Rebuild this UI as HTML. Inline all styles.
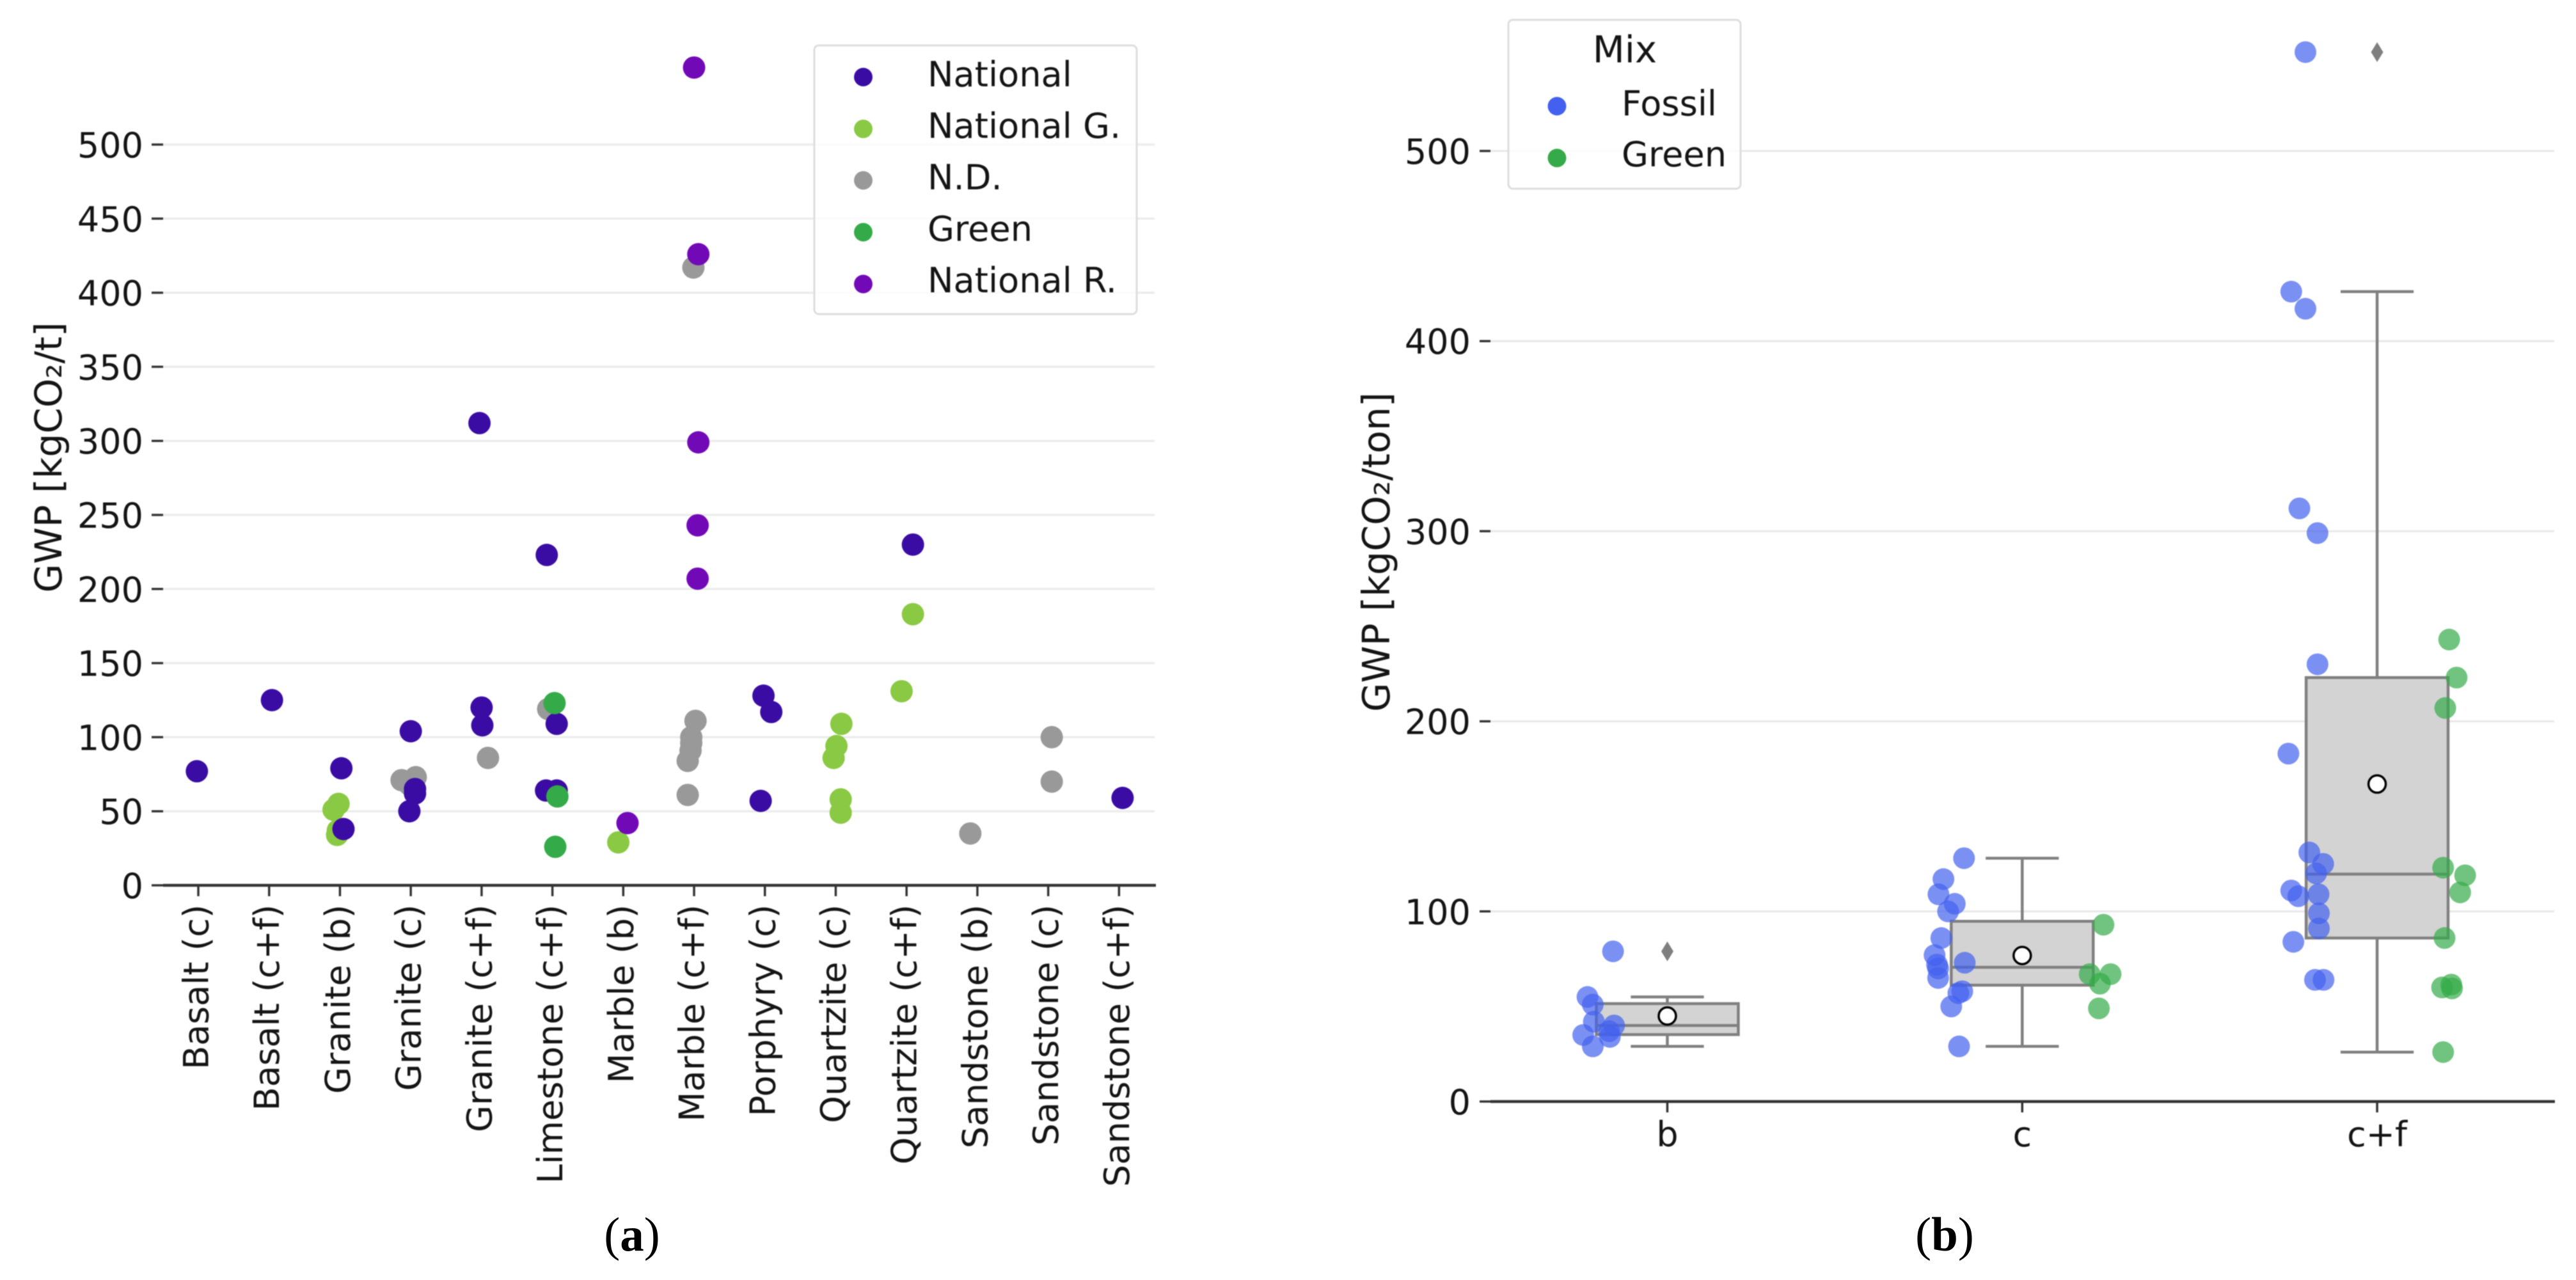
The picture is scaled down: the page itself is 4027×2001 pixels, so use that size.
<!DOCTYPE html>
<html lang="en">
<head>
<meta charset="utf-8">
<title>GWP by stone type and by mix</title>
<style>
html,body{margin:0;padding:0;background:#fff;}
svg{display:block;}
text{font-family:"DejaVu Sans","Liberation Sans",sans-serif;fill:#141414;}
.cap{font-family:"Liberation Serif","DejaVu Serif",serif;fill:#000;font-size:75px;}
.soft{filter:blur(0.8px);}
</style>
</head>
<body>
<svg id="figure" xmlns="http://www.w3.org/2000/svg" width="4027" height="2001" viewBox="0 0 4027 2001">
  <rect width="4027" height="2001" fill="#fff"/>

  <g id="panel-a" class="soft"></g>
  <text class="soft" transform="translate(96,715) rotate(-90)" text-anchor="middle" font-size="58">GWP [kgCO₂/t]</text>
  <g class="soft">
    <rect x="1273" y="71" width="504" height="420" rx="7" fill="rgba(255,255,255,0.8)" stroke="#dddddd" stroke-width="3"/>
    <g><circle cx="1349.5" cy="120.5" r="14.5" fill="#3a0ca3"/><text x="1450" y="135" font-size="54.2">National</text></g>
    <g><circle cx="1349.5" cy="201.5" r="14.5" fill="#8ac943"/><text x="1450" y="215.5" font-size="54.2">National G.</text></g>
    <g><circle cx="1349.5" cy="282" r="14.5" fill="#999999"/><text x="1450" y="296" font-size="54.2">N.D.</text></g>
    <g><circle cx="1349.5" cy="363" r="14.5" fill="#34ab48"/><text x="1450" y="376.5" font-size="54.2">Green</text></g>
    <g><circle cx="1349.5" cy="444" r="14.5" fill="#7209b7"/><text x="1450" y="457" font-size="54.2">National R.</text></g>
  </g>
  <text class="cap" x="988" y="1955" text-anchor="middle">(<tspan font-weight="bold">a</tspan>)</text>

  <g id="panel-b" class="soft"></g>
  <text class="soft" transform="translate(2172,863) rotate(-90)" text-anchor="middle" font-size="58.5">GWP [kgCO₂/ton]</text>
  <g class="soft">
    <rect x="2358" y="31" width="363" height="264" rx="7" fill="rgba(255,255,255,0.8)" stroke="#dddddd" stroke-width="3"/>
    <text x="2540" y="97.5" text-anchor="middle" font-size="58">Mix</text>
    <g><circle cx="2434" cy="166" r="14.5" fill="#4361ee"/><text x="2535" y="180.5" font-size="54.2">Fossil</text></g>
    <g><circle cx="2434" cy="247" r="14.5" fill="#34ab48"/><text x="2535" y="260" font-size="54.2">Green</text></g>
  </g>
  <text class="cap" x="3040" y="1955" text-anchor="middle">(<tspan font-weight="bold">b</tspan>)</text>
</svg>

<script>
/* ---------- Panel (a) data ---------- */
const stoneCategories = ["Basalt (c)","Basalt (c+f)","Granite (b)","Granite (c)","Granite (c+f)","Limestone (c+f)","Marble (b)","Marble (c+f)","Porphyry (c)","Quartzite (c)","Quartzite (c+f)","Sandstone (b)","Sandstone (c)","Sandstone (c+f)"];
const stoneTicks = [0,50,100,150,200,250,300,350,400,450,500];

const nationalCat    = [0,1,2,2,3,3,3,3,4,4,4,5,5,5,5,8,8,8,10,13];
const nationalValues = [77,125,79,38,104,65,62,50,312,120,108,223,109,64,64,128,117,57,230,59];
const nationalJitter = [-0.02,0.04,0.02,0.05,0,0.06,0.06,-0.02,-0.03,0,0.01,-0.08,0.06,-0.09,0.06,-0.02,0.09,-0.06,0.09,0.05];

const nationalGCat    = [2,2,2,2,6,9,9,9,9,9,10,10];
const nationalGValues = [55,51,37,34,29,109,94,86,58,49,183,131];
const nationalGJitter = [-0.02,-0.09,-0.03,-0.04,-0.07,0.08,0.01,-0.03,0.07,0.07,0.09,-0.07];

const ndCat    = [3,3,3,4,5,7,7,7,7,7,7,7,11,12,12];
const ndValues = [71,73,68,86,119,417,111,100,96,91,84,61,35,100,70];
const ndJitter = [-0.13,0.07,-0.02,0.09,-0.06,-0.01,0.02,-0.04,-0.04,-0.05,-0.09,-0.09,-0.1,0.05,0.05];

const greenCat    = [5,5,5];
const greenValues = [123,60,26];
const greenJitter = [0.03,0.07,0.04];

const nationalRCat    = [6,7,7,7,7,7];
const nationalRValues = [42,552,426,299,243,207];
const nationalRJitter = [0.06,0,0.06,0.06,0.05,0.05];

/* ---------- Panel (b) data ---------- */
const mixCategories = ["b","c","c+f"];
const mixTicks = [0,100,200,300,400,500];

const fossilCat    = [0,0,0,0,0,0,0,0,0, 1,1,1,1,1,1,1,1,1,1,1,1,1,1,1, 2,2,2,2,2,2,2,2,2,2,2,2,2,2,2,2,2,2];
const fossilValues = [79,55,51,42,35,29,40,37,34, 128,117,109,104,100,86,77,72,70,65,73,58,57,50,29, 552,426,417,312,299,230,183,131,125,120,111,108,109,99,91,84,64,64];
const fossilJitter = [-0.153,-0.225,-0.21,-0.207,-0.237,-0.21,-0.15,-0.164,-0.162, -0.164,-0.222,-0.236,-0.19,-0.209,-0.228,-0.247,-0.24,-0.237,-0.237,-0.162,-0.169,-0.18,-0.2,-0.178, -0.202,-0.242,-0.202,-0.219,-0.168,-0.168,-0.25,-0.191,-0.152,-0.172,-0.242,-0.222,-0.165,-0.164,-0.164,-0.236,-0.175,-0.151];

const mixGreenCat    = [1,1,1,1,1, 2,2,2,2,2,2,2,2,2,2,2];
const mixGreenValues = [93,67,67,62,49, 243,223,207,123,119,110,86,60,61.5,59.5,26];
const mixGreenJitter = [0.229,0.249,0.19,0.219,0.216, 0.203,0.224,0.192,0.186,0.248,0.234,0.19,0.183,0.209,0.211,0.186];

const boxQ1       = [35.2,61.2,86];
const boxMedian   = [40,70.6,119.6];
const boxQ3       = [51.5,94.8,223];
const whiskerLow  = [29,29,26];
const whiskerHigh = [55,128,426];
const boxMeans    = [45,76.8,167];
const outlierCat    = [0,2];
const outlierValues = [79,552];

/* ---------- Axis functions ---------- */
const ay = v => 1384 - 2.316 * v;
const ax = c => 310 + 110.72 * c;
const by = v => 1722 - 2.972 * v;
const bx = c => 2606.5 + 554.8 * c;

const NS = 'http://www.w3.org/2000/svg';
function mk(tag, attrs, parent, txt) {
  const n = document.createElementNS(NS, tag);
  for (const k in attrs) n.setAttribute(k, attrs[k]);
  if (txt !== undefined) n.textContent = txt;
  parent.appendChild(n);
  return n;
}
const AXIS = '#333333';
const panelA = document.getElementById('panel-a');
const panelB = document.getElementById('panel-b');

/* ---------- Panel (a) axes ---------- */
stoneTicks.forEach(t => {
  let el;
  if (t > 0) {
    el = mk('line', {x1:255, x2:1805, y1:ay(t), y2:ay(t), stroke:'#ececec', 'stroke-width':3.5}, panelA);
    
    
  }
  el = mk('line', {x1:237, x2:255, y1:ay(t), y2:ay(t), stroke:AXIS, 'stroke-width':3.5}, panelA);
  
  
  el = mk('text', {x:224, y:ay(t)+20, 'text-anchor':'end', 'font-size':54}, panelA, String(t));
  
  
});
stoneCategories.forEach((c, i) => {
  let el = mk('line', {x1:ax(i), x2:ax(i), y1:1384, y2:1401, stroke:AXIS, 'stroke-width':3.5}, panelA);
  
  
  el = mk('text', {transform:'translate(' + (ax(i)+15.5) + ',1414) rotate(-90)', 'text-anchor':'end', 'font-size':54.3}, panelA, c);
  
  
});
const axisA = mk('line', {x1:255, x2:1807, y1:1384, y2:1384, stroke:AXIS, 'stroke-width':4.5}, panelA);



/* ---------- Panel (a) points ---------- */
function stoneSeries(cat, values, jitter, color, name) {
  values.forEach((v, i) => {
    const el = mk('circle', {cx:ax(cat[i] + jitter[i]), cy:ay(v), r:17.5, fill:color}, panelA);
    
    
  });
}
stoneSeries(nationalGCat, nationalGValues, nationalGJitter, '#8ac943', 'point-national-g');
stoneSeries(ndCat, ndValues, ndJitter, '#999999', 'point-nd');
stoneSeries(nationalCat, nationalValues, nationalJitter, '#3a0ca3', 'point-national');
stoneSeries(greenCat, greenValues, greenJitter, '#34ab48', 'point-green');
stoneSeries(nationalRCat, nationalRValues, nationalRJitter, '#7209b7', 'point-national-r');

/* ---------- Panel (b) axes ---------- */
mixTicks.forEach(t => {
  let el;
  if (t > 0) {
    el = mk('line', {x1:2330, x2:3993, y1:by(t), y2:by(t), stroke:'#e8e8e8', 'stroke-width':3}, panelB);
    
    
  }
  el = mk('line', {x1:2313, x2:2330, y1:by(t), y2:by(t), stroke:AXIS, 'stroke-width':3.5}, panelB);
  
  
  el = mk('text', {x:2299, y:by(t)+20, 'text-anchor':'end', 'font-size':54}, panelB, String(t));
  
  
});
mixCategories.forEach((c, i) => {
  let el = mk('line', {x1:bx(i), x2:bx(i), y1:1722, y2:1739, stroke:AXIS, 'stroke-width':3.5}, panelB);
  
  
  el = mk('text', {x:bx(i), y:1792, 'text-anchor':'middle', 'font-size':54}, panelB, c);
  
  
});
const axisB = mk('line', {x1:2330, x2:3994, y1:1722, y2:1722, stroke:AXIS, 'stroke-width':4.5}, panelB);



/* ---------- Panel (b) boxes ---------- */
const BOX_HALF = 0.2, CAP_HALF = 0.103, GREY = '#808080';
mixCategories.forEach((c, i) => {
  const cx = bx(i);
  let el = mk('line', {x1:cx, x2:cx, y1:by(boxQ3[i]), y2:by(whiskerHigh[i]), stroke:GREY, 'stroke-width':4.5}, panelB);
  
  
  el = mk('line', {x1:cx, x2:cx, y1:by(boxQ1[i]), y2:by(whiskerLow[i]), stroke:GREY, 'stroke-width':4.5}, panelB);
  
  
  el = mk('line', {x1:bx(i-CAP_HALF), x2:bx(i+CAP_HALF), y1:by(whiskerHigh[i]), y2:by(whiskerHigh[i]), stroke:GREY, 'stroke-width':4.5}, panelB);
  
  
  el = mk('line', {x1:bx(i-CAP_HALF), x2:bx(i+CAP_HALF), y1:by(whiskerLow[i]), y2:by(whiskerLow[i]), stroke:GREY, 'stroke-width':4.5}, panelB);
  
  
  el = mk('rect', {x:bx(i-BOX_HALF), width:bx(i+BOX_HALF)-bx(i-BOX_HALF), y:by(boxQ3[i]), height:by(boxQ1[i])-by(boxQ3[i]), fill:'#d3d3d3', stroke:GREY, 'stroke-width':4.5}, panelB);
  
  
  el = mk('line', {x1:bx(i-BOX_HALF), x2:bx(i+BOX_HALF), y1:by(boxMedian[i]), y2:by(boxMedian[i]), stroke:GREY, 'stroke-width':4.5}, panelB);
  
  
  el = mk('circle', {cx:cx, cy:by(boxMeans[i]), r:13.5, fill:'#ffffff', stroke:'#000000', 'stroke-width':3.5}, panelB);
  
  
});
outlierValues.forEach((v, i) => {
  const cx = bx(outlierCat[i]), cy = by(v);
  const el = mk('polygon', {points:(cx-9.5)+','+cy+' '+cx+','+(cy-15.5)+' '+(cx+9.5)+','+cy+' '+cx+','+(cy+15.5), fill:'#7f7f7f'}, panelB);
  
  
});

/* ---------- Panel (b) points ---------- */
function mixSeries(cat, values, jitter, color, name) {
  values.forEach((v, i) => {
    const el = mk('circle', {cx:bx(cat[i] + jitter[i]), cy:by(v), r:17, fill:color, 'fill-opacity':0.7}, panelB);
    
    
  });
}
mixSeries(fossilCat, fossilValues, fossilJitter, '#4361ee', 'point-fossil');
mixSeries(mixGreenCat, mixGreenValues, mixGreenJitter, '#34ab48', 'point-mix-green');
</script>
</body>
</html>
